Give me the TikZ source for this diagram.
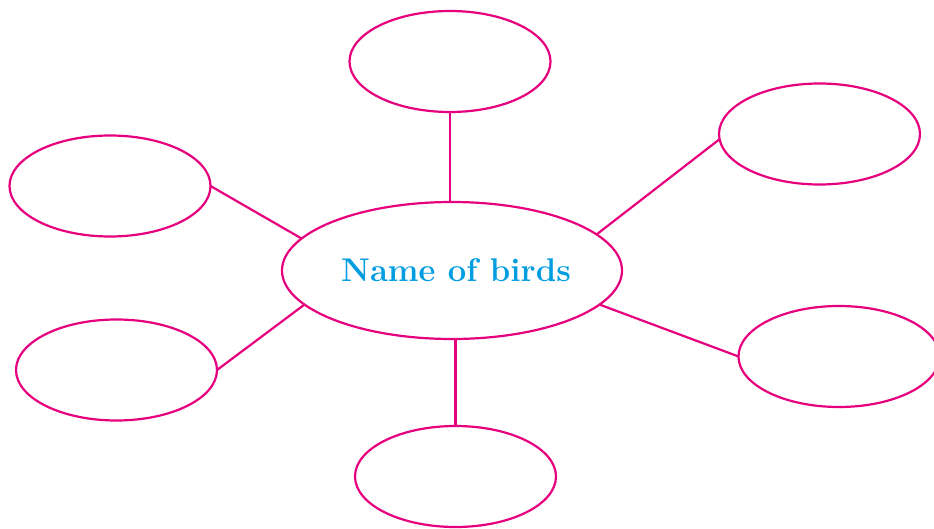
\documentclass[tikz,border=0pt]{standalone}
\usetikzlibrary{shapes.geometric}
\definecolor{pinkline}{RGB}{230,0,126}
\definecolor{birdblue}{RGB}{0,157,224}
\tikzset{
  bubble/.style={ellipse, draw=pinkline, line width=2.2pt, inner sep=0pt, outer sep=0pt,
    minimum width=201pt, minimum height=101pt},
  hub/.style={bubble, minimum width=340pt, minimum height=137pt,
    text=birdblue, font=\fontsize{32.8}{38}\selectfont\bfseries},
  link/.style={draw=pinkline, line width=2.2pt}
}
\begin{document}
\begin{tikzpicture}[x=1pt,y=-1pt]
\useasboundingbox (0,0) rectangle (934,529);
\node[hub] (c) at (452,270.5) {\hspace*{8pt}Name of birds};
\node[bubble] (t) at (450,61.5) {};
\node[bubble] (rt) at (819.5,134) {};
\node[bubble] (lt) at (110,186) {};
\node[bubble] (lb) at (116.5,370) {};
\node[bubble] (rb) at (839,356.5) {};
\node[bubble] (b) at (455.5,476.5) {};
\draw[link] (t.south) -- (t.south |- c.north);
\draw[link] (rt.183) -- (c.14.5);
\draw[link] (lt.east) -- (c.168);
\draw[link] (lb.east) -- (c.193);
\draw[link] (rb.west) -- (c.347);
\draw[link] (b.north) -- (b.north |- c.south);
\end{tikzpicture}
\end{document}
